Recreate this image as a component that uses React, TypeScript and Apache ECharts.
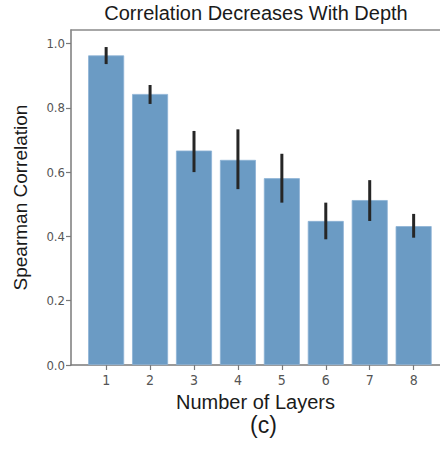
import React, { useEffect, useRef } from "react";
import * as echarts from "echarts";

const layers = [1, 2, 3, 4, 5, 6, 7, 8];
const correlation = [0.963, 0.843, 0.667, 0.638, 0.581, 0.448, 0.513, 0.432];
const errLow = [0.936, 0.812, 0.6, 0.547, 0.505, 0.391, 0.448, 0.396];
const errHigh = [0.989, 0.871, 0.728, 0.733, 0.657, 0.505, 0.575, 0.47];
const yTicks = [0, 0.2, 0.4, 0.6, 0.8, 1.0];

export default function App() {
  const ref = useRef<HTMLDivElement>(null);
  useEffect(() => {
    if (!ref.current) return;
    const chart = echarts.init(ref.current, null, { renderer: "svg" });
    const tickFont = "DejaVu Sans Condensed, DejaVu Sans, sans-serif";
    const sans = "Liberation Sans, Arial, sans-serif";
    chart.setOption({
      animation: false,
      backgroundColor: "#ffffff",
      title: {
        text: "Correlation Decreases With Depth",
        left: 256,
        top: 3,
        textAlign: "center",
        padding: 0,
        textStyle: { fontFamily: sans, fontSize: 20, fontWeight: "normal", color: "#1a1a1a" },
      },
      grid: { left: 71, right: 0, top: 30, bottom: 85, show: false },
      xAxis: [
        {
          type: "value",
          min: 0.2,
          max: 8.6,
          name: "Number of Layers",
          nameLocation: "middle",
          nameGap: 23,
          nameTextStyle: { fontFamily: sans, fontSize: 20, color: "#1a1a1a" },
          splitLine: { show: false },
          axisLine: { show: true, lineStyle: { color: "#7a7a7a", width: 1.5 } },
          axisTick: {
            show: true,
            length: 5,
            customValues: layers,
            lineStyle: { color: "#7a7a7a", width: 1.2 },
          },
          axisLabel: {
            customValues: layers,
            margin: 8,
            fontFamily: tickFont,
            fontSize: 14,
            color: "#555",
            formatter: (v: number) => String(Math.round(v)),
          },
        },
        {
          type: "value",
          position: "top",
          min: 0.2,
          max: 8.6,
          splitLine: { show: false },
          axisLine: { show: true, lineStyle: { color: "#8a8a8a", width: 1.5 } },
          axisTick: { show: false },
          axisLabel: { show: false },
        },
      ],
      yAxis: {
        type: "value",
        min: 0,
        max: 1.042,
        name: "Spearman Correlation",
        nameLocation: "middle",
        nameGap: 41,
        nameTextStyle: { fontFamily: sans, fontSize: 19, color: "#1a1a1a" },
        splitLine: { show: false },
        axisLine: { show: true, lineStyle: { color: "#7a7a7a", width: 1.5 } },
        axisTick: {
          show: true,
          length: 5,
          customValues: yTicks,
          lineStyle: { color: "#7a7a7a", width: 1.2 },
        },
        axisLabel: {
          customValues: yTicks,
          margin: 6,
          fontFamily: tickFont,
          fontSize: 13,
          color: "#555",
          formatter: (v: number) => v.toFixed(1),
        },
      },
      graphic: [
        {
          type: "text",
          left: 250,
          top: 413,
          style: {
            text: "(c)",
            fontFamily: sans,
            fontSize: 23,
            fill: "#1a1a1a",
          },
        },
      ],
      series: [
        {
          type: "bar",
          barWidth: 36,
          xAxisIndex: 0,
          itemStyle: { color: "#6b9bc4", borderColor: "#8db3d6", borderWidth: 0.8 },
          data: layers.map((l, i) => [l, correlation[i]]),
        },
        {
          type: "custom",
          xAxisIndex: 0,
          data: layers.map((l, i) => [l, errLow[i], errHigh[i]]),
          encode: { x: 0, y: [1, 2] },
          renderItem: (params: any, api: any) => {
            const x = api.value(0);
            const p1 = api.coord([x, api.value(1)]);
            const p2 = api.coord([x, api.value(2)]);
            return {
              type: "line",
              shape: { x1: p1[0], y1: p1[1], x2: p2[0], y2: p2[1] },
              style: { stroke: "#262626", lineWidth: 3 },
            };
          },
          z: 10,
        },
      ],
    });
    return () => chart.dispose();
  }, []);
  return (
    <div
      ref={ref}
      style={{ position: "fixed", left: 0, top: 0, width: 440, height: 450 }}
    />
  );
}
